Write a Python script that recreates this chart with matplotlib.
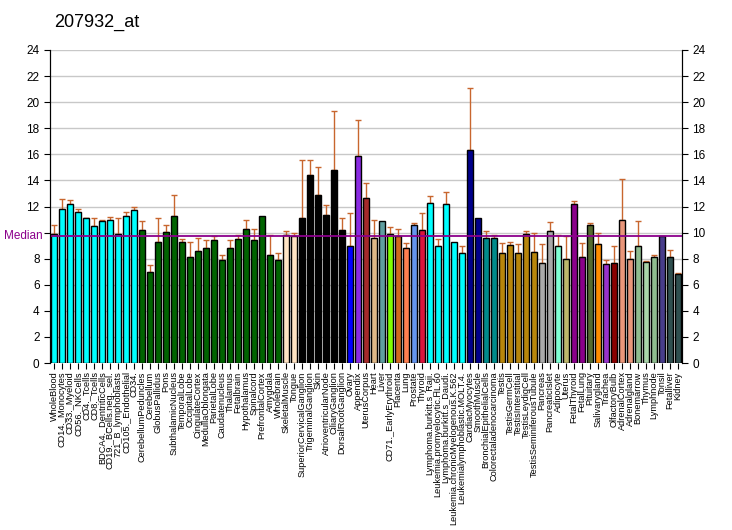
import numpy as np
import matplotlib
matplotlib.use('Agg')
import matplotlib.pyplot as plt

#=============================================================================#
# Data #
#=============================================================================#
title = "207932_at"

tissues = ["WholeBlood", "CD14._Monocytes", "CD33._Myeloid", "CD56._NKCells",
           "CD4._Tcells", "CD8._Tcells", "BDCA4._DentriticCells",
           "CD19._BCells.neg._sel.", "721_B_lymphoblasts", "CD105._Endothelial",
           "CD34.", "CerebellumPeduncles", "Cerebellum", "GlobusPallidus", "Pons",
           "SubthalamicNucleus", "TemporalLobe", "OccipitalLobe", "CingulateCortex",
           "MedullaOblongata", "ParietalLobe", "Caudatenucleus", "Thalamus",
           "Fetalbrain", "Hypothalamus", "Spinalcord", "PrefrontalCortex",
           "Amygdala", "Wholebrain", "SkeletalMuscle", "Tongue",
           "SuperiorCervicalGanglion", "TrigeminalGanglion", "Skin",
           "AtrioventricularNode", "CiliaryGanglion", "DorsalRootGanglion", "Ovary",
           "Appendix", "UterusCorpus", "Heart", "Liver", "CD71._EarlyErythroid",
           "Placenta", "Lung", "Prostate", "Thyroid", "Lymphoma.burkitt.s_Raji.",
           "Leukemia.promyelocytic.HL.60", "Lymphoma.burkitt.s_Daudi.",
           "Leukemia.chronicMyelogenous.K.562", "Leukemialymphoblastic.MOLT.4.",
           "CardiacMyocytes", "SmoothMuscle", "BronchialEpithelialCells",
           "Colorectaladenocarcinoma", "Testis", "TestisGermCell",
           "TestisInterstitial", "TestisLeydigCell", "TestisSeminiferousTubule",
           "Pancreas", "PancreaticIslet", "Adipocyte", "Uterus", "FetalThyroid",
           "FetalLung", "Pituitary", "Salivarygland", "Trachea", "OlfactoryBulb",
           "AdrenalCortex", "Adrenalgland", "Bonemarrow", "Thymus", "Lymphnode",
           "Tonsil", "Fetalliver", "Kidney"]

values = [9.92, 11.77, 12.23, 11.6, 11.08, 10.54, 10.92, 11.0, 9.92, 11.3,
          11.7, 10.23, 7.0, 9.3, 10.08, 11.3, 9.3, 8.15, 8.6, 8.85,
          9.45, 7.9, 8.82, 9.51, 10.28, 9.44, 11.28, 8.28, 7.9, 9.82,
          9.74, 11.15, 14.44, 12.9, 11.36, 14.82, 10.2, 8.97, 15.9, 12.67,
          9.59, 10.9, 9.9, 9.74, 8.82, 10.59, 10.2, 12.28, 8.97, 12.2,
          9.28, 8.44, 16.36, 11.13, 9.59, 9.59, 8.44, 9.05, 8.44, 9.9,
          8.51, 7.67, 10.13, 8.97, 7.97, 12.2, 8.13, 10.59, 9.13, 7.59,
          7.67, 10.97, 7.97, 8.97, 7.74, 8.13, 9.74, 8.13, 6.82]

# top of the upper error bar (None = no bar drawn)
err_top = [10.6, 12.6, 12.5, 11.77, 11.15, 11.15, 11.0, 11.23, 11.15, 11.6,
           12.0, 10.92, 7.54, 11.15, 10.6, 12.85, 9.54, 9.3, 9.6, 9.46,
           9.7, 8.28, 9.44, 9.82, 10.97, 10.28, None, 9.82, 8.44, 10.13,
           9.97, 15.6, 15.6, 15.05, 12.13, 19.36, 11.13, 11.5, 18.67, 13.82,
           10.97, None, 10.44, 10.28, 9.2, 10.74, 11.51, 12.82, 9.51, 13.13,
           None, 8.97, 21.05, None, 10.13, 9.82, 9.2, 9.28, 9.13, 10.13,
           9.97, 9.13, 10.82, 9.82, 9.74, 12.44, 9.2, 10.74, 9.97, 7.9,
           8.97, 14.13, 8.59, 10.9, 7.82, 8.28, None, 8.67, 6.9]

median = 9.75

yticks = list(range(0, 25, 2))

colors = (['#00FFFF'] * 11 + ['#006400'] * 18 + ['#FFE4C4'] * 2 + ['#000000'] * 6 +
          ['#0000FF', '#8A2BE2', '#A52A2A', '#DEB887', '#5F9EA0', '#7FFF00',
           '#D2691E', '#FF7F50', '#6495ED', '#DC143C'] +
          ['#00FFFF'] * 5 + ['#00008B'] * 2 + ['#008B8B'] * 2 + ['#B8860B'] * 5 +
          ['#A9A9A9'] * 2 +
          ['#7FFFD4', '#BDB76B', '#8B008B', '#8B008B', '#556B2F', '#FF8C00',
           '#9932CC', '#8B0000', '#E9967A', '#E9967A', '#8FBC8F', '#A8D4A8',
           '#8FBC8F', '#483D8B', '#2F4F4F', '#2F4F4F'])

#=============================================================================#
# Plot #
#=============================================================================#
plt.rcParams['font.family'] = ['Liberation Sans', 'DejaVu Sans']

fig = plt.figure(figsize=(7.32, 5.30), dpi=100)
ax = fig.add_axes([50 / 732, 1 - 363 / 530, 632 / 732, 313 / 530])

x = np.arange(len(values))
for yy in yticks[1:]:
    ax.axhline(yy, color='#C8C8C8', lw=1, zorder=0)

ax.bar(x, values, width=0.8, color=colors, edgecolor='black', linewidth=1, zorder=2)

ex = [i for i in x if err_top[i] is not None]
ey = [values[i] for i in ex]
eh = [err_top[i] - values[i] for i in ex]
ax.errorbar(ex, ey, yerr=[np.zeros(len(ex)), eh], fmt='none', ecolor='#C8662E',
            elinewidth=1, capsize=2.5, capthick=1, zorder=1)

ax.axhline(median, color='#8B008B', lw=1.3, zorder=3)
ax.text(-0.012, median, 'Median', color='#8B008B', fontsize=8.5, ha='right',
        va='center', transform=ax.get_yaxis_transform())

ax.set_xlim(-0.5, len(values) - 0.5)
ax.set_ylim(0, 24)
ax.set_yticks(yticks)
# the left "10" is covered by the Median label in the reference
ax.set_yticklabels(['' if t == 10 else str(t) for t in yticks])
ax.tick_params(axis='y', labelsize=8.5, length=4, right=True)

# right axis keeps every label
ax2 = ax.twinx()
ax2.set_ylim(0, 24)
ax2.set_yticks(yticks)
ax2.tick_params(axis='y', labelsize=8.5, length=4)
ax2.spines['top'].set_visible(False)
ax2.spines['bottom'].set_visible(False)

ax.set_xticks(x)
ax.set_xticklabels(tissues, rotation=90, fontsize=6.6)
ax.tick_params(axis='x', length=4, pad=2)

ax.spines['top'].set_visible(False)
ax.spines['bottom'].set_visible(False)

fig.text(54 / 732, 1 - 22 / 530, title, fontsize=13, ha='left', va='center')

plt.savefig('out.png', dpi=100)
